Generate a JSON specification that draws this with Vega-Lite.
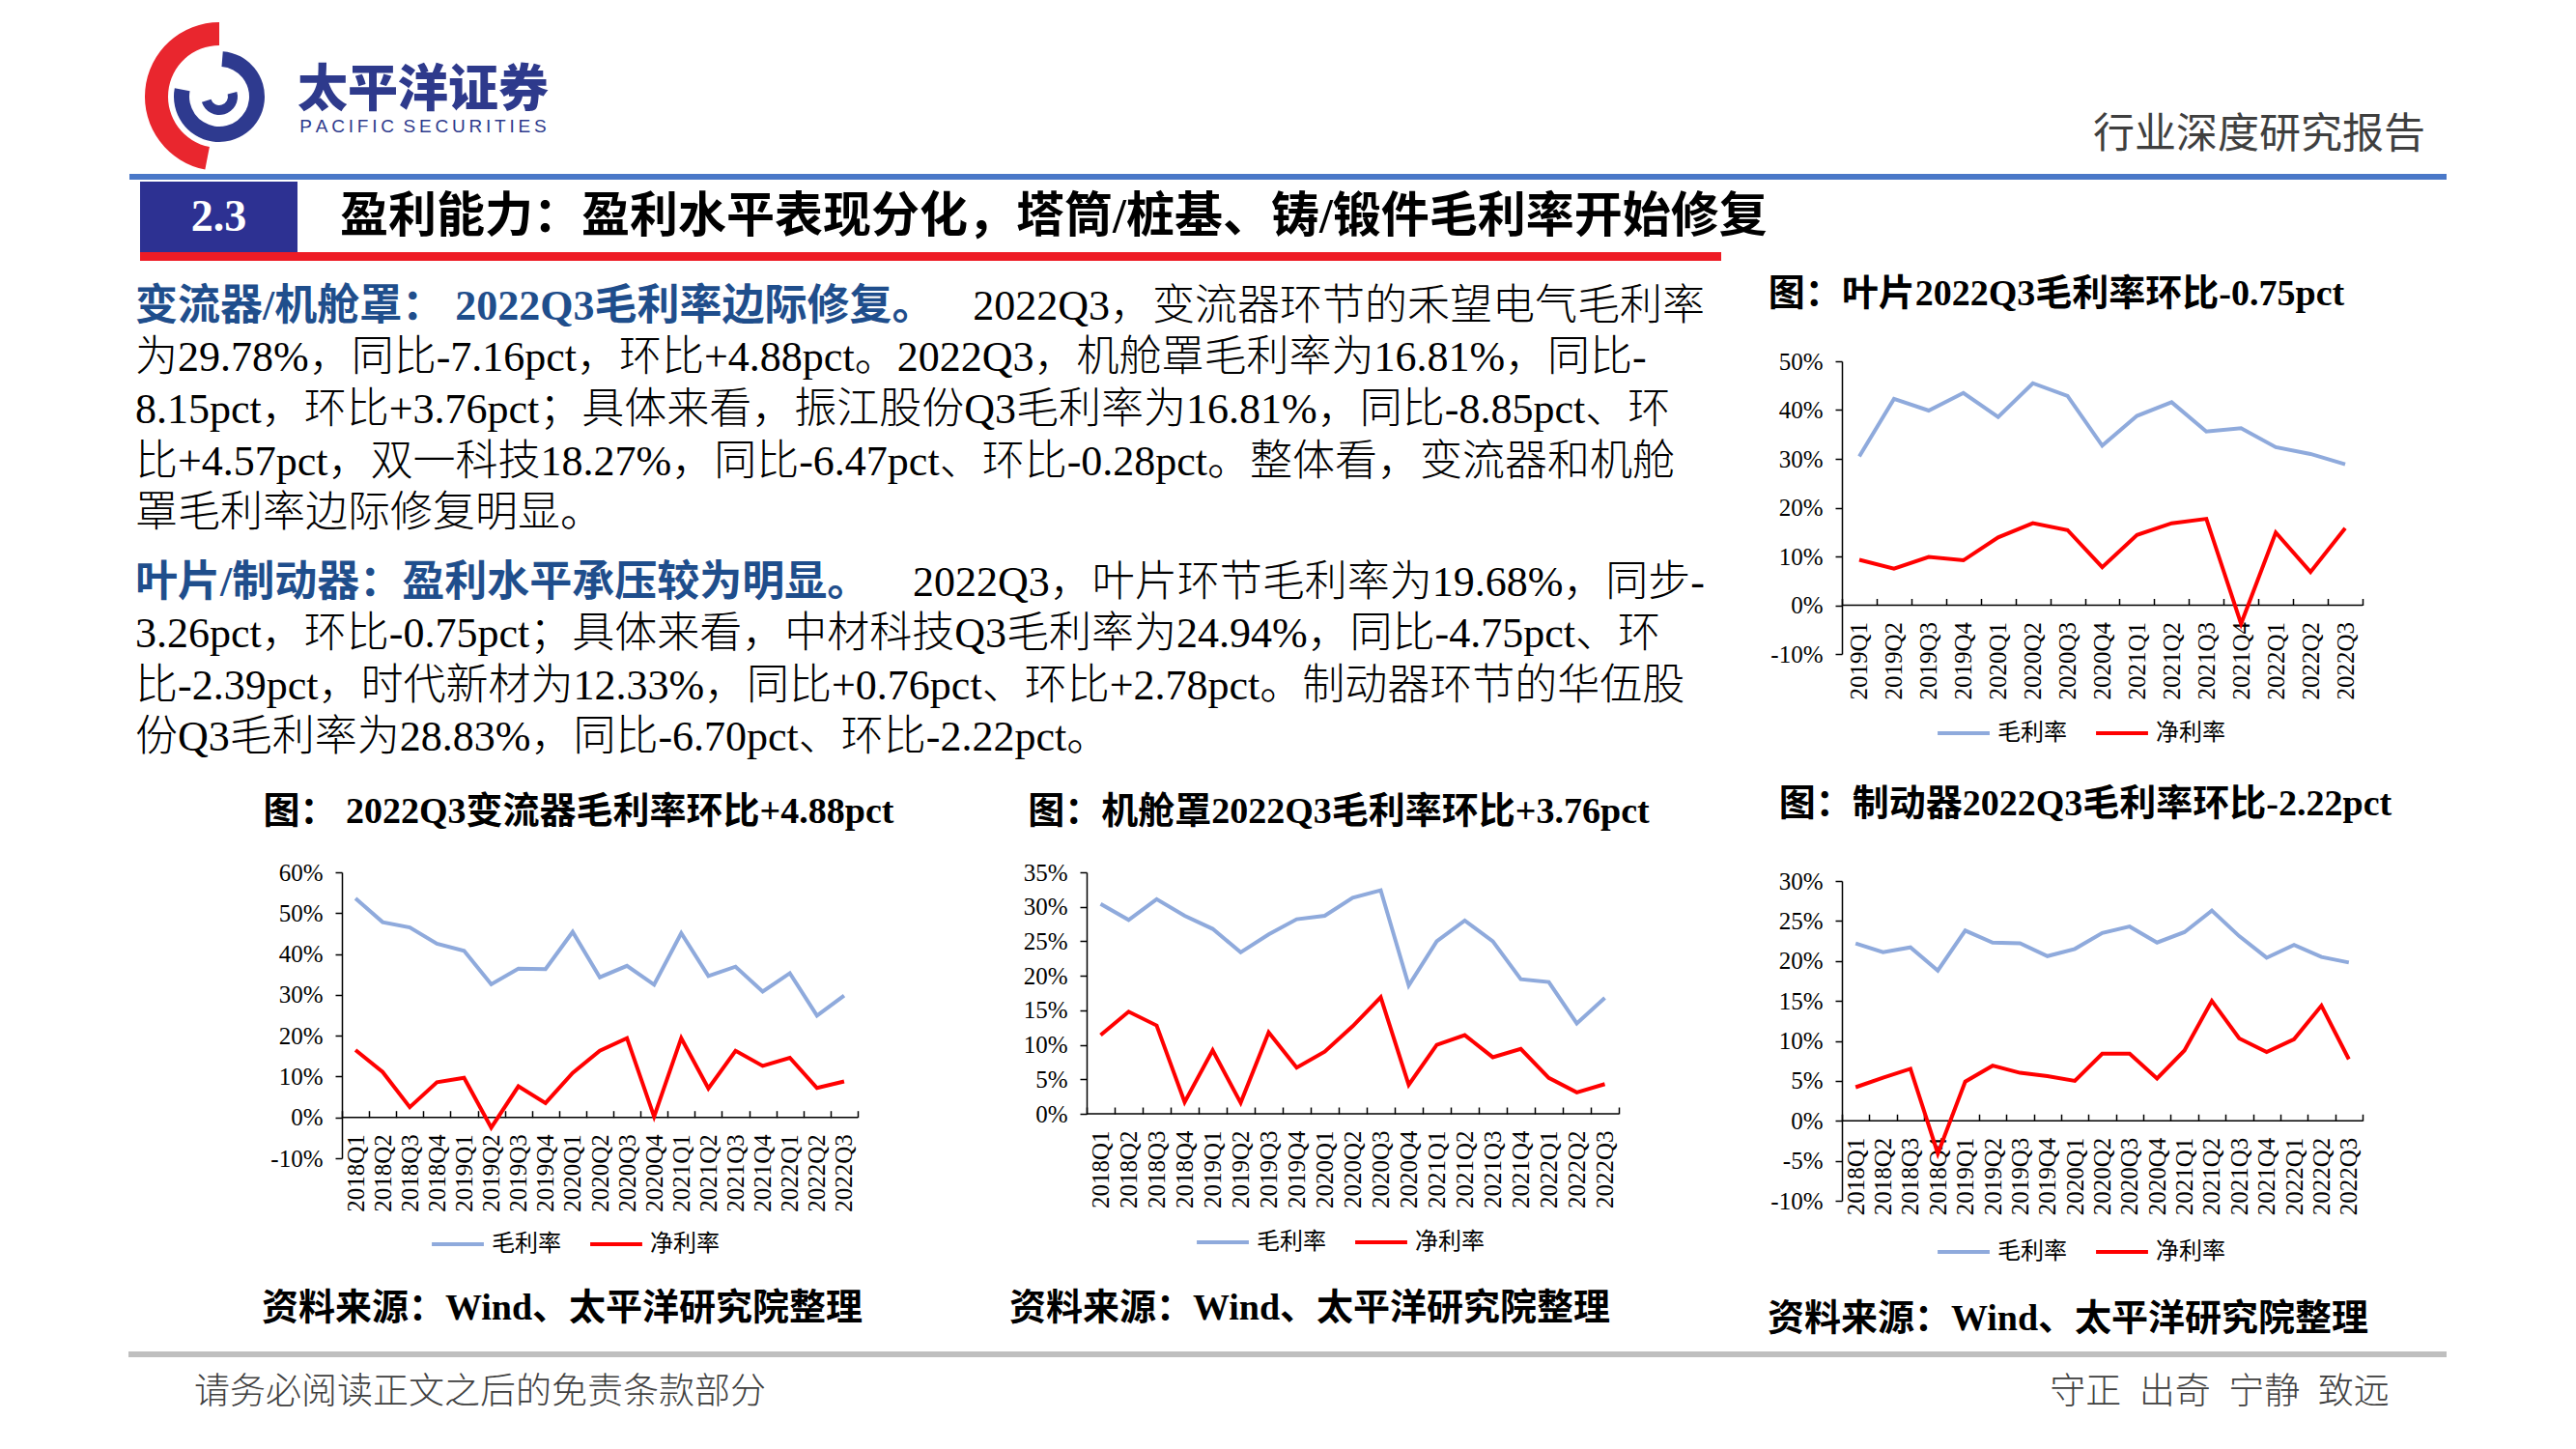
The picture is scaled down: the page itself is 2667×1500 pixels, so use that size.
{
"$schema":"https://vega.github.io/schema/vega-lite/v6.json",
"background":"#ffffff",
"padding":0,
"config":{"view":{"stroke":null},"concat":{"spacing":0},"font":"Liberation Serif"},
"datasets":{
"c1":[{"q":"2018Q1","毛利率":53.6,"净利率":16.5},{"q":"2018Q2","毛利率":47.8,"净利率":11.1},{"q":"2018Q3","毛利率":46.5,"净利率":2.5},{"q":"2018Q4","毛利率":42.5,"净利率":8.6},{"q":"2019Q1","毛利率":40.8,"净利率":9.7},{"q":"2019Q2","毛利率":32.6,"净利率":-2.5},{"q":"2019Q3","毛利率":36.4,"净利率":7.6},{"q":"2019Q4","毛利率":36.3,"净利率":3.5},{"q":"2020Q1","毛利率":45.4,"净利率":10.9},{"q":"2020Q2","毛利率":34.3,"净利率":16.3},{"q":"2020Q3","毛利率":37.1,"净利率":19.4},{"q":"2020Q4","毛利率":32.5,"净利率":0.2},{"q":"2021Q1","毛利率":45.1,"净利率":19.4},{"q":"2021Q2","毛利率":34.6,"净利率":7.1},{"q":"2021Q3","毛利率":36.9,"净利率":16.3},{"q":"2021Q4","毛利率":30.8,"净利率":12.6},{"q":"2022Q1","毛利率":35.3,"净利率":14.6},{"q":"2022Q2","毛利率":24.9,"净利率":7.2},{"q":"2022Q3","毛利率":29.8,"净利率":8.8}],
"c2":[{"q":"2018Q1","毛利率":30.4,"净利率":11.4},{"q":"2018Q2","毛利率":28.1,"净利率":14.8},{"q":"2018Q3","毛利率":31.1,"净利率":12.8},{"q":"2018Q4","毛利率":28.7,"净利率":1.7},{"q":"2019Q1","毛利率":26.8,"净利率":9.2},{"q":"2019Q2","毛利率":23.4,"净利率":1.6},{"q":"2019Q3","毛利率":26.0,"净利率":11.8},{"q":"2019Q4","毛利率":28.2,"净利率":6.7},{"q":"2020Q1","毛利率":28.7,"净利率":9.0},{"q":"2020Q2","毛利率":31.3,"净利率":12.7},{"q":"2020Q3","毛利率":32.4,"净利率":16.9},{"q":"2020Q4","毛利率":18.6,"净利率":4.2},{"q":"2021Q1","毛利率":25.0,"净利率":10.0},{"q":"2021Q2","毛利率":28.0,"净利率":11.4},{"q":"2021Q3","毛利率":25.0,"净利率":8.2},{"q":"2021Q4","毛利率":19.5,"净利率":9.4},{"q":"2022Q1","毛利率":19.1,"净利率":5.2},{"q":"2022Q2","毛利率":13.1,"净利率":3.1},{"q":"2022Q3","毛利率":16.8,"净利率":4.3}],
"c3":[{"q":"2019Q1","毛利率":30.5,"净利率":9.3},{"q":"2019Q2","毛利率":42.3,"净利率":7.5},{"q":"2019Q3","毛利率":39.9,"净利率":9.9},{"q":"2019Q4","毛利率":43.5,"净利率":9.2},{"q":"2020Q1","毛利率":38.6,"净利率":13.9},{"q":"2020Q2","毛利率":45.5,"净利率":16.8},{"q":"2020Q3","毛利率":42.9,"净利率":15.4},{"q":"2020Q4","毛利率":32.7,"净利率":7.8},{"q":"2021Q1","毛利率":38.8,"净利率":14.4},{"q":"2021Q2","毛利率":41.6,"净利率":16.8},{"q":"2021Q3","毛利率":35.6,"净利率":17.7},{"q":"2021Q4","毛利率":36.3,"净利率":-3.8},{"q":"2022Q1","毛利率":32.4,"净利率":14.9},{"q":"2022Q2","毛利率":31.0,"净利率":6.8},{"q":"2022Q3","毛利率":28.9,"净利率":15.8}],
"c4":[{"q":"2018Q1","毛利率":22.2,"净利率":4.2},{"q":"2018Q2","毛利率":21.1,"净利率":5.4},{"q":"2018Q3","毛利率":21.7,"净利率":6.5},{"q":"2018Q4","毛利率":18.8,"净利率":-4.1},{"q":"2019Q1","毛利率":23.8,"净利率":4.9},{"q":"2019Q2","毛利率":22.3,"净利率":6.9},{"q":"2019Q3","毛利率":22.2,"净利率":6.0},{"q":"2019Q4","毛利率":20.6,"净利率":5.6},{"q":"2020Q1","毛利率":21.5,"净利率":5.0},{"q":"2020Q2","毛利率":23.5,"净利率":8.4},{"q":"2020Q3","毛利率":24.3,"净利率":8.4},{"q":"2020Q4","毛利率":22.3,"净利率":5.3},{"q":"2021Q1","毛利率":23.6,"净利率":8.8},{"q":"2021Q2","毛利率":26.3,"净利率":15.0},{"q":"2021Q3","毛利率":23.1,"净利率":10.3},{"q":"2021Q4","毛利率":20.4,"净利率":8.6},{"q":"2022Q1","毛利率":22.0,"净利率":10.2},{"q":"2022Q2","毛利率":20.5,"净利率":14.4},{"q":"2022Q3","毛利率":19.8,"净利率":7.7}]
},
"resolve":{"scale":{"color":"independent"},"legend":{"color":"independent"}},
"vconcat":[
{"spacing":0,"hconcat":[
 {"width":150,"height":10,"data":{"values":[{}]},"mark":{"type":"rect","opacity":0},"encoding":{}},
 {"spacing":0,"vconcat":[
  {"width":150,"height":20,"data":{"values":[{}]},"mark":{"type":"rect","opacity":0},"encoding":{}},
  {"width":150,"height":160,"data":{"values":[{}]},"layer":[
   {"mark":{"type":"arc","theta":-2.95,"theta2":0,"innerRadius":53,"outerRadius":77,"color":"#E9262E"},"encoding":{}},
   {"mark":{"type":"arc","theta":0.08,"theta2":4.9,"innerRadius":31,"outerRadius":47,"color":"#2E3A8F"},"encoding":{}},
   {"mark":{"type":"arc","theta":1.3,"theta2":4.4,"innerRadius":9,"outerRadius":19,"color":"#2E3A8F"},"encoding":{}}
  ]}
 ]},
 {"spacing":0,"vconcat":[
  {"width":272,"height":68,"data":{"values":[{}]},"mark":{"type":"rect","opacity":0},"encoding":{}},
  {"width":272,"height":48,"data":{"values":[{"t":"太平洋证券"}]},"mark":{"type":"text","font":"Noto Sans CJK SC","fontSize":52,"fontWeight":900,"color":"#2E3A8C"},"encoding":{"text":{"field":"t"}}},
  {"width":272,"height":22,"data":{"values":[{"t":"P\u2009A\u2009C\u2009I\u2009F\u2009I\u2009C\u2002S\u2009E\u2009C\u2009U\u2009R\u2009I\u2009T\u2009I\u2009E\u2009S"}]},"mark":{"type":"text","font":"Liberation Sans","fontSize":19,"color":"#2E3A8C"},"encoding":{"text":{"field":"t"}}}
 ]},
 {"width":1570,"height":10,"data":{"values":[{}]},"mark":{"type":"rect","opacity":0},"encoding":{}},
 {"spacing":0,"vconcat":[
  {"width":390,"height":118,"data":{"values":[{}]},"mark":{"type":"rect","opacity":0},"encoding":{}},
  {"width":390,"height":44,"data":{"values":[{"t":"行业深度研究报告"}]},"mark":{"type":"text","font":"Noto Sans CJK SC","fontSize":43,"color":"#3F3F3F"},"encoding":{"text":{"field":"t"}}}
 ]}
]},
{"spacing":0,"hconcat":[
 {"width":134,"height":6,"data":{"values":[{}]},"mark":{"type":"rect","opacity":0},"encoding":{}},
 {"width":2399,"height":6,"data":{"values":[{}]},"mark":{"type":"rect","color":"#4A78C8"},"encoding":{}}
]},
{"width":10,"height":2,"data":{"values":[{}]},"mark":{"type":"rect","opacity":0},"encoding":{}},
{"spacing":0,"hconcat":[
 {"width":145,"height":10,"data":{"values":[{}]},"mark":{"type":"rect","opacity":0},"encoding":{}},
 {"spacing":0,"vconcat":[
  {"spacing":0,"hconcat":[
   {"width":163,"height":73,"data":{"values":[{"t":"2.3"}]},"layer":[
    {"mark":{"type":"rect","color":"#2D3192"},"encoding":{}},
    {"mark":{"type":"text","font":"Liberation Serif","fontSize":46,"fontWeight":"bold","color":"#ffffff"},"encoding":{"text":{"field":"t"}}}
   ]},
   {"width":44,"height":10,"data":{"values":[{}]},"mark":{"type":"rect","opacity":0},"encoding":{}},
   {"width":1500,"height":73,"data":{"values":[{"side":"start","t":"盈利能力：盈利水平表现分化，塔筒/桩基、铸/锻件毛利率开始修复"}]},"mark":{"type":"text","align":"left","font":"Liberation Serif, Noto Sans CJK SC","fontSize":50,"fontWeight":"bold","color":"#000000"},"encoding":{"x":{"field":"side","type":"nominal","axis":null,"scale":{"type":"point","domain":["start","end"],"padding":0}},"text":{"field":"t"}}}
  ]},
  {"width":1637,"height":9,"data":{"values":[{}]},"mark":{"type":"rect","color":"#EE1C25"},"encoding":{}}
 ]}
]},
{"spacing":0,"resolve":{"scale":{"color":"independent"},"legend":{"color":"independent"}},"hconcat":[
 {"width":140,"height":10,"data":{"values":[{}]},"mark":{"type":"rect","opacity":0},"encoding":{}},
 {"spacing":0,"resolve":{"scale":{"color":"independent"},"legend":{"color":"independent"}},"vconcat":[
  {"width":10,"height":21,"data":{"values":[{}]},"mark":{"type":"rect","opacity":0},"encoding":{}},
  {"width":1625,"height":268,
   "data":{"values":[
    {"line":1,"part":"lead","side":"start","t":"变流器/机舱罩： 2022Q3毛利率边际修复。"},
    {"line":1,"part":"rest","side":"end","t":"2022Q3，变流器环节的禾望电气毛利率"},
    {"line":2,"part":"full","side":"start","t":"为29.78%，同比-7.16pct，环比+4.88pct。2022Q3，机舱罩毛利率为16.81%，同比-"},
    {"line":3,"part":"full","side":"start","t":"8.15pct，环比+3.76pct；具体来看，振江股份Q3毛利率为16.81%，同比-8.85pct、环"},
    {"line":4,"part":"full","side":"start","t":"比+4.57pct，双一科技18.27%，同比-6.47pct、环比-0.28pct。整体看，变流器和机舱"},
    {"line":5,"part":"full","side":"start","t":"罩毛利率边际修复明显。"}
   ]},
   "encoding":{
    "y":{"field":"line","type":"ordinal","axis":null,"scale":{"type":"band","domain":[1,2,3,4,5],"paddingInner":0,"paddingOuter":0}},
    "x":{"field":"side","type":"nominal","axis":null,"scale":{"type":"point","domain":["start","end"],"padding":0}},
    "text":{"field":"t"}},
   "layer":[
    {"transform":[{"filter":"datum.part === 'lead'"}],"mark":{"type":"text","align":"left","font":"Liberation Serif, Noto Sans CJK SC","fontSize":44,"fontWeight":"bold","color":"#1F4E8C"}},
    {"transform":[{"filter":"datum.part === 'rest'"}],"mark":{"type":"text","align":"right","font":"Liberation Serif, Noto Sans CJK SC","fontSize":44,"fontWeight":300,"color":"#000000"}},
    {"transform":[{"filter":"datum.part === 'full'"}],"mark":{"type":"text","align":"left","font":"Liberation Serif, Noto Sans CJK SC","fontSize":44,"fontWeight":300,"color":"#000000"}}
   ]},
  {"width":10,"height":18,"data":{"values":[{}]},"mark":{"type":"rect","opacity":0},"encoding":{}},
  {"width":1625,"height":214,
   "data":{"values":[
    {"line":1,"part":"lead","side":"start","t":"叶片/制动器：盈利水平承压较为明显。"},
    {"line":1,"part":"rest","side":"end","t":"2022Q3，叶片环节毛利率为19.68%，同步-"},
    {"line":2,"part":"full","side":"start","t":"3.26pct，环比-0.75pct；具体来看，中材科技Q3毛利率为24.94%，同比-4.75pct、环"},
    {"line":3,"part":"full","side":"start","t":"比-2.39pct，时代新材为12.33%，同比+0.76pct、环比+2.78pct。制动器环节的华伍股"},
    {"line":4,"part":"full","side":"start","t":"份Q3毛利率为28.83%，同比-6.70pct、环比-2.22pct。"}
   ]},
   "encoding":{
    "y":{"field":"line","type":"ordinal","axis":null,"scale":{"type":"band","domain":[1,2,3,4],"paddingInner":0,"paddingOuter":0}},
    "x":{"field":"side","type":"nominal","axis":null,"scale":{"type":"point","domain":["start","end"],"padding":0}},
    "text":{"field":"t"}},
   "layer":[
    {"transform":[{"filter":"datum.part === 'lead'"}],"mark":{"type":"text","align":"left","font":"Liberation Serif, Noto Sans CJK SC","fontSize":44,"fontWeight":"bold","color":"#1F4E8C"}},
    {"transform":[{"filter":"datum.part === 'rest'"}],"mark":{"type":"text","align":"right","font":"Liberation Serif, Noto Sans CJK SC","fontSize":44,"fontWeight":300,"color":"#000000"}},
    {"transform":[{"filter":"datum.part === 'full'"}],"mark":{"type":"text","align":"left","font":"Liberation Serif, Noto Sans CJK SC","fontSize":44,"fontWeight":300,"color":"#000000"}}
   ]},
  {"spacing":0,"hconcat":[
   {"width":918,"height":100,"data":{"values":[{"t":"图： 2022Q3变流器毛利率环比+4.88pct"}]},"mark":{"type":"text","font":"Liberation Serif, Noto Sans CJK SC","fontSize":38,"fontWeight":"bold","color":"#000000"},"encoding":{"text":{"field":"t"}}},
   {"width":656,"height":100,"data":{"values":[{"t":"图：机舱罩2022Q3毛利率环比+3.76pct"}]},"mark":{"type":"text","font":"Liberation Serif, Noto Sans CJK SC","fontSize":38,"fontWeight":"bold","color":"#000000"},"encoding":{"text":{"field":"t"}}}
  ]},
  {"spacing":0,"bounds":"flush","resolve":{"scale":{"color":"independent"},"legend":{"color":"independent"}},"hconcat":[
   {"width":214,"height":10,"data":{"values":[{}]},"mark":{"type":"rect","opacity":0},"encoding":{}},
   {"width":534,"height":296,"data":{"name":"c1"},"layer":[
    {"data":{"values":[{}]},"mark":{"type":"rule","color":"#000000","strokeWidth":1.5},"encoding":{"y":{"datum":0,"type":"quantitative","scale":{"domain":[-10,60],"nice":false,"zero":false},"axis":{"title":null,"orient":"left","values":[-10,0,10,20,30,40,50,60],"labelExpr":"datum.value + '%'","labelFont":"Liberation Serif","labelFontSize":25,"labelColor":"#000000","grid":false,"domainColor":"#000000","domainWidth":1.5,"tickColor":"#000000","tickWidth":1.5,"tickSize":7,"labelPadding":13}}}},
    {"transform":[{"fold":["毛利率","净利率"],"as":["series","value"]}],"mark":{"type":"line","strokeWidth":4},
     "encoding":{
      "x":{"field":"q","type":"ordinal","sort":null,"bandPosition":0.5,"scale":{"type":"band","paddingInner":0,"paddingOuter":0},"axis":{"title":null,"labelAngle":-90,"labelFont":"Liberation Serif","labelFontSize":25,"labelColor":"#000000","labelOverlap":false,"labelPadding":24,"domain":false,"ticks":true,"tickBand":"extent","tickSize":-7,"tickColor":"#000000","tickWidth":1.5,"offset":-42.3,"grid":false}},
      "y":{"field":"value","type":"quantitative","scale":{"domain":[-10,60],"nice":false,"zero":false},"axis":{"title":null,"orient":"left","values":[-10,0,10,20,30,40,50,60],"labelExpr":"datum.value + '%'","labelFont":"Liberation Serif","labelFontSize":25,"labelColor":"#000000","grid":false,"domainColor":"#000000","domainWidth":1.5,"tickColor":"#000000","tickWidth":1.5,"tickSize":7,"labelPadding":13}},
      "color":{"field":"series","type":"nominal","scale":{"domain":["毛利率","净利率"],"range":["#8FAADC","#FF0000"]},"legend":{"orient":"none","legendX":91,"legendY":356,"direction":"horizontal","title":null,"symbolType":"stroke","symbolSize":2900,"symbolStrokeWidth":4,"labelFont":"Noto Sans CJK SC","labelFontSize":24,"labelColor":"#000000","columnPadding":22,"labelOffset":6}}
     }}
   ]},
   {"width":237,"height":10,"data":{"values":[{}]},"mark":{"type":"rect","opacity":0},"encoding":{}},
   {"width":551,"height":250,"data":{"name":"c2"},"layer":[
    {"data":{"values":[{}]},"mark":{"type":"rule","color":"#000000","strokeWidth":1.5},"encoding":{"y":{"datum":0,"type":"quantitative","scale":{"domain":[0,35],"nice":false,"zero":false},"axis":{"title":null,"orient":"left","values":[0,5,10,15,20,25,30,35],"labelExpr":"datum.value + '%'","labelFont":"Liberation Serif","labelFontSize":25,"labelColor":"#000000","grid":false,"domainColor":"#000000","domainWidth":1.5,"tickColor":"#000000","tickWidth":1.5,"tickSize":7,"labelPadding":13}}}},
    {"transform":[{"fold":["毛利率","净利率"],"as":["series","value"]}],"mark":{"type":"line","strokeWidth":4},
     "encoding":{
      "x":{"field":"q","type":"ordinal","sort":null,"bandPosition":0.5,"scale":{"type":"band","paddingInner":0,"paddingOuter":0},"axis":{"title":null,"labelAngle":-90,"labelFont":"Liberation Serif","labelFontSize":25,"labelColor":"#000000","labelOverlap":false,"labelPadding":24,"domain":false,"ticks":true,"tickBand":"extent","tickSize":-7,"tickColor":"#000000","tickWidth":1.5,"offset":0,"grid":false}},
      "y":{"field":"value","type":"quantitative","scale":{"domain":[0,35],"nice":false,"zero":false},"axis":{"title":null,"orient":"left","values":[0,5,10,15,20,25,30,35],"labelExpr":"datum.value + '%'","labelFont":"Liberation Serif","labelFontSize":25,"labelColor":"#000000","grid":false,"domainColor":"#000000","domainWidth":1.5,"tickColor":"#000000","tickWidth":1.5,"tickSize":7,"labelPadding":13}},
      "color":{"field":"series","type":"nominal","scale":{"domain":["毛利率","净利率"],"range":["#8FAADC","#FF0000"]},"legend":{"orient":"none","legendX":112,"legendY":354,"direction":"horizontal","title":null,"symbolType":"stroke","symbolSize":2900,"symbolStrokeWidth":4,"labelFont":"Noto Sans CJK SC","labelFontSize":24,"labelColor":"#000000","columnPadding":22,"labelOffset":6}}
     }}
   ]}
  ]},
  {"width":10,"height":28,"data":{"values":[{}]},"mark":{"type":"rect","opacity":0},"encoding":{}},
  {"spacing":0,"hconcat":[
   {"width":884,"height":54,"data":{"values":[{"t":"资料来源：Wind、太平洋研究院整理"}]},"mark":{"type":"text","font":"Liberation Serif, Noto Sans CJK SC","fontSize":38,"fontWeight":"bold","color":"#000000"},"encoding":{"text":{"field":"t"}}},
   {"width":664,"height":54,"data":{"values":[{"t":"资料来源：Wind、太平洋研究院整理"}]},"mark":{"type":"text","font":"Liberation Serif, Noto Sans CJK SC","fontSize":38,"fontWeight":"bold","color":"#000000"},"encoding":{"text":{"field":"t"}}}
  ]}
 ]},
 {"width":64,"height":10,"data":{"values":[{}]},"mark":{"type":"rect","opacity":0},"encoding":{}},
 {"spacing":0,"bounds":"flush","resolve":{"scale":{"color":"independent"},"legend":{"color":"independent"}},"vconcat":[
  {"width":444,"height":70,"data":{"values":[{"t":"图：叶片2022Q3毛利率环比-0.75pct"}]},"mark":{"type":"text","font":"Liberation Serif, Noto Sans CJK SC","fontSize":38,"fontWeight":"bold","color":"#000000"},"encoding":{"text":{"field":"t"}}},
  {"width":10,"height":34,"data":{"values":[{}]},"mark":{"type":"rect","opacity":0},"encoding":{}},
  {"width":539,"height":303,"data":{"name":"c3"},"layer":[
   {"data":{"values":[{}]},"mark":{"type":"rule","color":"#000000","strokeWidth":1.5},"encoding":{"y":{"datum":0,"type":"quantitative","scale":{"domain":[-10,50],"nice":false,"zero":false},"axis":{"title":null,"orient":"left","values":[-10,0,10,20,30,40,50],"labelExpr":"datum.value + '%'","labelFont":"Liberation Serif","labelFontSize":25,"labelColor":"#000000","grid":false,"domainColor":"#000000","domainWidth":1.5,"tickColor":"#000000","tickWidth":1.5,"tickSize":7,"labelPadding":13}}}},
   {"transform":[{"fold":["毛利率","净利率"],"as":["series","value"]}],"mark":{"type":"line","strokeWidth":4},
    "encoding":{
     "x":{"field":"q","type":"ordinal","sort":null,"bandPosition":0.5,"scale":{"type":"band","paddingInner":0,"paddingOuter":0},"axis":{"title":null,"labelAngle":-90,"labelFont":"Liberation Serif","labelFontSize":25,"labelColor":"#000000","labelOverlap":false,"labelPadding":24,"domain":false,"ticks":true,"tickBand":"extent","tickSize":-7,"tickColor":"#000000","tickWidth":1.5,"offset":-50.5,"grid":false}},
     "y":{"field":"value","type":"quantitative","scale":{"domain":[-10,50],"nice":false,"zero":false},"axis":{"title":null,"orient":"left","values":[-10,0,10,20,30,40,50],"labelExpr":"datum.value + '%'","labelFont":"Liberation Serif","labelFontSize":25,"labelColor":"#000000","grid":false,"domainColor":"#000000","domainWidth":1.5,"tickColor":"#000000","tickWidth":1.5,"tickSize":7,"labelPadding":13}},
     "color":{"field":"series","type":"nominal","scale":{"domain":["毛利率","净利率"],"range":["#8FAADC","#FF0000"]},"legend":{"orient":"none","legendX":97,"legendY":356,"direction":"horizontal","title":null,"symbolType":"stroke","symbolSize":2900,"symbolStrokeWidth":4,"labelFont":"Noto Sans CJK SC","labelFontSize":24,"labelColor":"#000000","columnPadding":22,"labelOffset":6}}
    }}
  ]},
  {"width":10,"height":121,"data":{"values":[{}]},"mark":{"type":"rect","opacity":0},"encoding":{}},
  {"width":504,"height":70,"data":{"values":[{"t":"图：制动器2022Q3毛利率环比-2.22pct"}]},"mark":{"type":"text","font":"Liberation Serif, Noto Sans CJK SC","fontSize":38,"fontWeight":"bold","color":"#000000"},"encoding":{"text":{"field":"t"}}},
  {"width":10,"height":44,"data":{"values":[{}]},"mark":{"type":"rect","opacity":0},"encoding":{}},
  {"width":539,"height":331,"data":{"name":"c4"},"layer":[
   {"data":{"values":[{}]},"mark":{"type":"rule","color":"#000000","strokeWidth":1.5},"encoding":{"y":{"datum":0,"type":"quantitative","scale":{"domain":[-10,30],"nice":false,"zero":false},"axis":{"title":null,"orient":"left","values":[-10,-5,0,5,10,15,20,25,30],"labelExpr":"datum.value + '%'","labelFont":"Liberation Serif","labelFontSize":25,"labelColor":"#000000","grid":false,"domainColor":"#000000","domainWidth":1.5,"tickColor":"#000000","tickWidth":1.5,"tickSize":7,"labelPadding":13}}}},
   {"transform":[{"fold":["毛利率","净利率"],"as":["series","value"]}],"mark":{"type":"line","strokeWidth":4},
    "encoding":{
     "x":{"field":"q","type":"ordinal","sort":null,"bandPosition":0.5,"scale":{"type":"band","paddingInner":0,"paddingOuter":0},"axis":{"title":null,"labelAngle":-90,"labelFont":"Liberation Serif","labelFontSize":25,"labelColor":"#000000","labelOverlap":false,"labelPadding":24,"domain":false,"ticks":true,"tickBand":"extent","tickSize":-7,"tickColor":"#000000","tickWidth":1.5,"offset":-82.75,"grid":false}},
     "y":{"field":"value","type":"quantitative","scale":{"domain":[-10,30],"nice":false,"zero":false},"axis":{"title":null,"orient":"left","values":[-10,-5,0,5,10,15,20,25,30],"labelExpr":"datum.value + '%'","labelFont":"Liberation Serif","labelFontSize":25,"labelColor":"#000000","grid":false,"domainColor":"#000000","domainWidth":1.5,"tickColor":"#000000","tickWidth":1.5,"tickSize":7,"labelPadding":13}},
     "color":{"field":"series","type":"nominal","scale":{"domain":["毛利率","净利率"],"range":["#8FAADC","#FF0000"]},"legend":{"orient":"none","legendX":97,"legendY":355,"direction":"horizontal","title":null,"symbolType":"stroke","symbolSize":2900,"symbolStrokeWidth":4,"labelFont":"Noto Sans CJK SC","labelFontSize":24,"labelColor":"#000000","columnPadding":22,"labelOffset":6}}
    }}
  ]},
  {"width":10,"height":95,"data":{"values":[{}]},"mark":{"type":"rect","opacity":0},"encoding":{}},
  {"width":468,"height":55,"data":{"values":[{"t":"资料来源：Wind、太平洋研究院整理"}]},"mark":{"type":"text","font":"Liberation Serif, Noto Sans CJK SC","fontSize":38,"fontWeight":"bold","color":"#000000"},"encoding":{"text":{"field":"t"}}}
 ]}
]},
{"width":10,"height":6,"data":{"values":[{}]},"mark":{"type":"rect","opacity":0},"encoding":{}},
{"spacing":0,"hconcat":[
 {"width":133,"height":6,"data":{"values":[{}]},"mark":{"type":"rect","opacity":0},"encoding":{}},
 {"width":2400,"height":6,"data":{"values":[{}]},"mark":{"type":"rect","color":"#BFBFBF"},"encoding":{}}
]},
{"spacing":0,"hconcat":[
 {"width":994,"height":74,"data":{"values":[{"t":"请务必阅读正文之后的免责条款部分"}]},"mark":{"type":"text","font":"Noto Sans CJK SC","fontSize":37,"fontWeight":300,"color":"#404040"},"encoding":{"text":{"field":"t"}}},
 {"width":1000,"height":10,"data":{"values":[{}]},"mark":{"type":"rect","opacity":0},"encoding":{}},
 {"width":608,"height":74,"data":{"values":[{"t":"守正\u2002出奇\u2002宁静\u2002致远"}]},"mark":{"type":"text","font":"Noto Sans CJK SC","fontSize":37,"fontWeight":300,"color":"#404040"},"encoding":{"text":{"field":"t"}}}
]}
]
}
